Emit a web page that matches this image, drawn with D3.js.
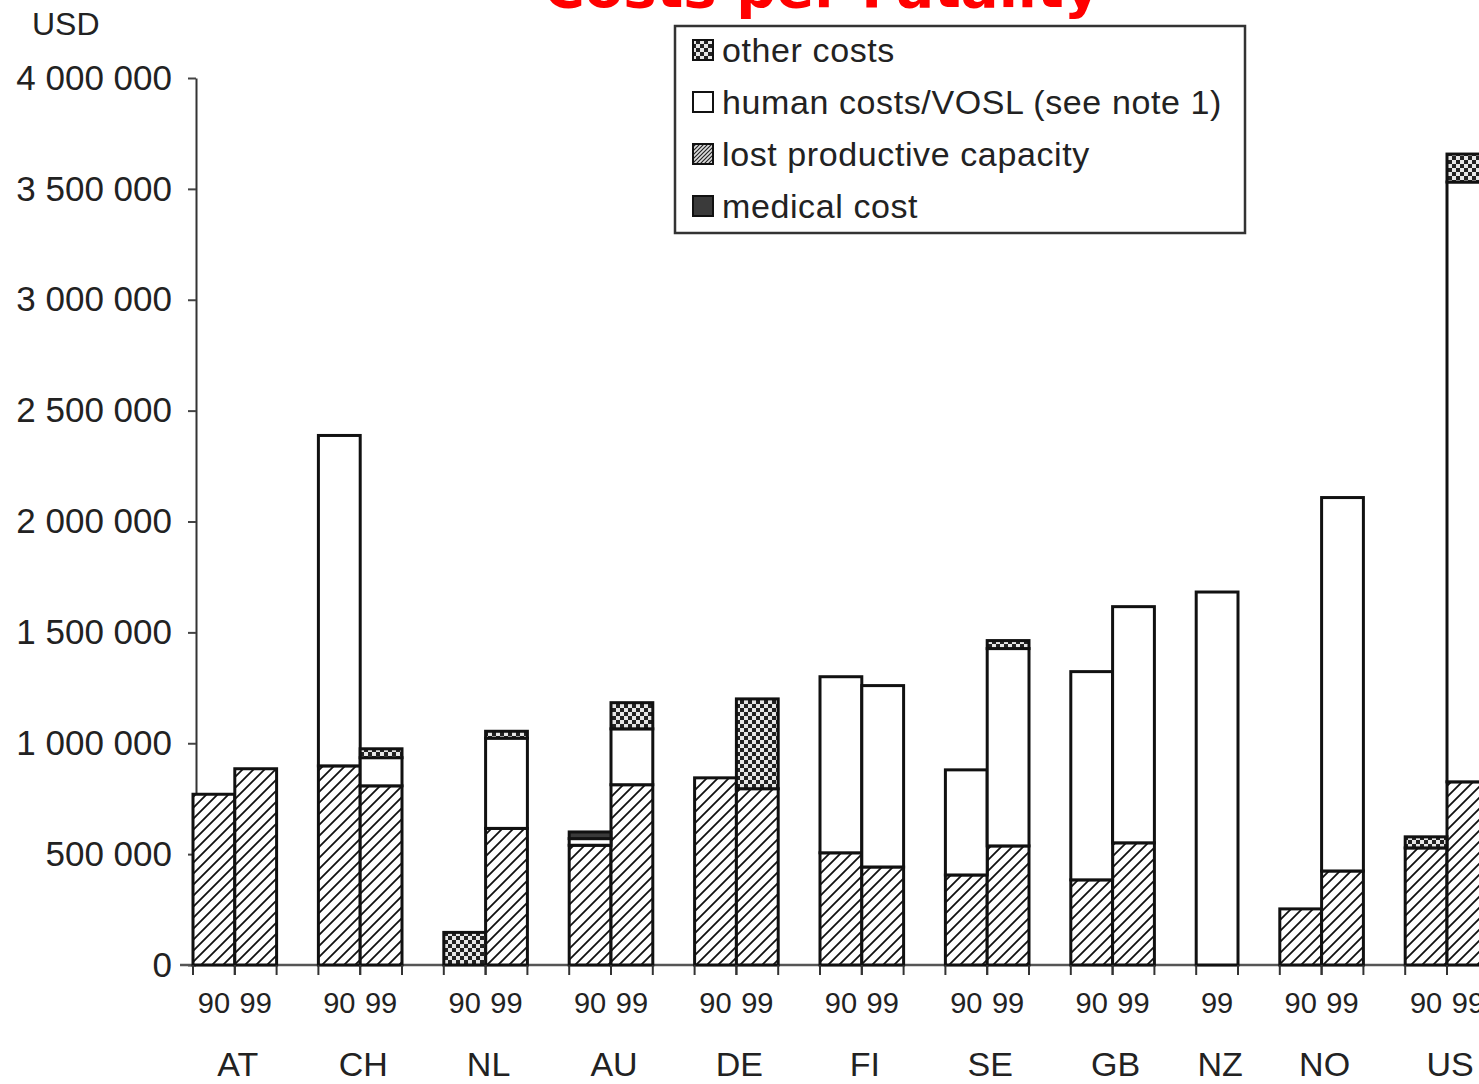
<!DOCTYPE html>
<meta charset="utf-8">
<script src="https://d3js.org/d3.v7.min.js"></script>
<style>
  body { margin: 0; background: #fff; overflow: hidden; }
  text { font-family: "Liberation Sans", Arial, sans-serif; fill: #222; }
</style>
<div id="my_dataviz"></div>

<script>

// bars, in drawing order (NZ has only 1999)
var barCountry = ["AT","AT","CH","CH","NL","NL","AU","AU","DE","DE","FI","FI","SE","SE","GB","GB","NZ","NO","NO","US","US"];
var barYear    = ["90","99","90","99","90","99","90","99","90","99","90","99","90","99","90","99","99","90","99","90","99"];

// cost components, USD per fatality
var lostProductive = [770000, 885000, 898000, 808000, 0, 616000, 540000, 813000, 844000, 795000, 506000, 442000, 406000, 537000, 384000, 551000, 0, 253000, 424000, 528000, 826000];
var humanCosts     = [0, 0, 1490000, 127000, 0, 407000, 30000, 252000, 0, 0, 794000, 818000, 474000, 890000, 939000, 1065000, 1682000, 0, 1684000, 0, 2705000];
var medicalCost    = [0, 0, 0, 0, 0, 0, 30000, 0, 0, 0, 0, 0, 0, 0, 0, 0, 0, 0, 0, 0, 0];
var otherCosts     = [0, 0, 0, 40000, 147000, 31000, 0, 118000, 0, 405000, 0, 0, 0, 36000, 0, 0, 0, 0, 0, 50000, 126000];

var yTicks = [0, 500000, 1000000, 1500000, 2000000, 2500000, 3000000, 3500000, 4000000];

var legendLabels = ["other costs", "human costs/VOSL (see note 1)", "lost productive capacity", "medical cost"];

var width = 1479, height = 1084;

var svg = d3.select("#my_dataviz")
  .append("svg")
    .attr("width", width)
    .attr("height", height);

// fill patterns
var defs = svg.append("defs");

var hatch = defs.append("pattern")
    .attr("id", "hatch")
    .attr("patternUnits", "userSpaceOnUse")
    .attr("width", 11).attr("height", 11);
hatch.append("rect").attr("width", 11).attr("height", 11).attr("fill", "#fff");
hatch.append("path")
    .attr("d", "M0,11 L11,0 M-3,3 L3,-3 M8,14 L14,8")
    .attr("stroke", "#111").attr("stroke-width", 1.8);

var hatchSmall = defs.append("pattern")
    .attr("id", "hatchSmall")
    .attr("patternUnits", "userSpaceOnUse")
    .attr("width", 4).attr("height", 4);
hatchSmall.append("rect").attr("width", 4).attr("height", 4).attr("fill", "#ddd");
hatchSmall.append("path")
    .attr("d", "M0,4 L4,0 M-1,1 L1,-1 M3,5 L5,3")
    .attr("stroke", "#222").attr("stroke-width", 1.2);

var checker = defs.append("pattern")
    .attr("id", "checker")
    .attr("patternUnits", "userSpaceOnUse")
    .attr("width", 8).attr("height", 8);
checker.append("rect").attr("width", 8).attr("height", 8).attr("fill", "#e6e6e6");
checker.append("rect").attr("width", 4).attr("height", 4).attr("fill", "#222");
checker.append("rect").attr("x", 4).attr("y", 4).attr("width", 4).attr("height", 4).attr("fill", "#222");

// x slots: one per bar plus one empty slot after each country
var slots = [];
var countries = [];
barCountry.forEach(function (c, i) {
  if (countries.indexOf(c) < 0) countries.push(c);
  slots.push(c + "-" + barYear[i]);
  if (i == barCountry.length - 1 || barCountry[i + 1] != c) slots.push(c + "-gap");
});

var x = d3.scaleBand()
  .domain(slots)
  .range([193, 193 + slots.length * 41.8])
  .padding(0);

var y = d3.scaleLinear()
  .domain([0, 4000000])
  .range([965, 78]);

// Y axis
var yAxis = svg.append("g")
  .attr("transform", "translate(196,0)")
  .call(d3.axisLeft(y)
    .tickValues(yTicks)
    .tickSize(8)
    .tickSizeOuter(0)
    .tickPadding(16)
    .tickFormat(function (d) { return d3.format(",")(d).replace(/,/g, " "); }));
yAxis.select(".domain").attr("stroke", "#333").attr("stroke-width", 2);
yAxis.selectAll(".tick line").attr("stroke", "#444").attr("stroke-width", 2);
yAxis.selectAll(".tick text")
  .style("font-family", "Liberation Sans, Arial, sans-serif")
  .style("font-size", "35px")
  .attr("fill", "#222");

svg.append("text")
  .attr("x", 32)
  .attr("y", 35)
  .style("font-size", "32px")
  .text("USD");

// baseline
svg.append("line")
  .attr("x1", 180).attr("x2", width)
  .attr("y1", y(0)).attr("y2", y(0))
  .attr("stroke", "#555").attr("stroke-width", 2.5);

// stacked data
var table = barCountry.map(function (c, i) {
  return {
    key: c + "-" + barYear[i],
    country: c,
    year: barYear[i],
    lost: lostProductive[i],
    human: humanCosts[i],
    medical: medicalCost[i],
    other: otherCosts[i]
  };
});

var keys = ["lost", "human", "medical", "other"];
var fills = { lost: "url(#hatch)", human: "#fff", medical: "#3a3a3a", other: "url(#checker)" };

var stack = d3.stack().keys(keys)(table);

svg.append("g")
  .selectAll("g")
  .data(stack)
  .enter()
  .append("g")
    .attr("fill", function (d) { return fills[d.key]; })
  .selectAll("rect")
  .data(function (d) { return d.filter(function (s) { return s[1] > s[0]; }); })
  .enter()
  .append("rect")
    .attr("x", function (d) { return x(d.data.key); })
    .attr("y", function (d) { return y(d[1]); })
    .attr("width", x.bandwidth())
    .attr("height", function (d) { return y(d[0]) - y(d[1]); })
    .attr("stroke", "#111")
    .attr("stroke-width", 3);

// small ticks under each bar edge
var edges = [];
table.forEach(function (d) {
  edges.push(x(d.key));
  edges.push(x(d.key) + x.bandwidth());
});
svg.append("g")
  .selectAll("line")
  .data(edges)
  .enter()
  .append("line")
    .attr("x1", function (d) { return d; })
    .attr("x2", function (d) { return d; })
    .attr("y1", y(0))
    .attr("y2", y(0) + 10)
    .attr("stroke", "#333")
    .attr("stroke-width", 2);

// year labels
svg.append("g")
  .selectAll("text")
  .data(table)
  .enter()
  .append("text")
    .attr("x", function (d) { return x(d.key) + x.bandwidth() / 2; })
    .attr("y", 1013)
    .attr("text-anchor", "middle")
    .style("font-size", "29px")
    .text(function (d) { return d.year; });

// country labels
svg.append("g")
  .selectAll("text")
  .data(countries)
  .enter()
  .append("text")
    .attr("x", function (c) {
      var bars = table.filter(function (d) { return d.country == c; });
      return d3.mean(bars, function (d) { return x(d.key) + x.bandwidth() / 2; }) + 3;
    })
    .attr("y", 1076)
    .attr("text-anchor", "middle")
    .style("font-size", "34px")
    .text(function (c) { return c; });

// title (cut off at the top of the picture, as in the source)
svg.append("text")
  .attr("x", 822)
  .attr("y", 7)
  .attr("text-anchor", "middle")
  .style("font-family", "DejaVu Sans, Verdana, sans-serif")
  .style("font-weight", "bold")
  .style("font-size", "56px")
  .style("fill", "#ff0000")
  .text("Costs per Fatality");

// Handmade legend
var legend = svg.append("g");
legend.append("rect")
  .attr("x", 675).attr("y", 26)
  .attr("width", 570).attr("height", 207)
  .attr("fill", "#fff")
  .attr("stroke", "#333")
  .attr("stroke-width", 2.5);

var legendFills = ["url(#checker)", "#fff", "url(#hatchSmall)", "#3a3a3a"];

legend.selectAll("rect.sw")
  .data(legendLabels)
  .enter()
  .append("rect")
    .attr("class", "sw")
    .attr("x", 693)
    .attr("y", function (d, i) { return 40 + i * 52; })
    .attr("width", 20)
    .attr("height", 20)
    .attr("fill", function (d, i) { return legendFills[i]; })
    .attr("stroke", "#111")
    .attr("stroke-width", 2);

legend.selectAll("text")
  .data(legendLabels)
  .enter()
  .append("text")
    .attr("x", 722)
    .attr("y", function (d, i) { return 62 + i * 52; })
    .style("font-size", "34px")
    .style("letter-spacing", "0.6px")
    .text(function (d) { return d; });

</script>
